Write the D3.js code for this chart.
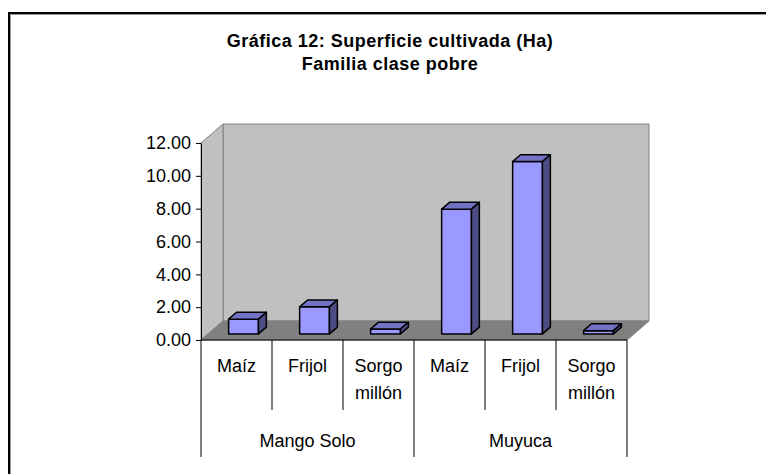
<!DOCTYPE html>
<html>
<head>
<meta charset="utf-8">
<script src="https://cdn.jsdelivr.net/npm/d3@7"></script>
<style>
  body { margin: 0; background: #fff; }
  svg { display: block; font-family: "Liberation Sans", Arial, sans-serif; }
</style>
</head>
<body>
<svg id="chart"></svg>
<script>
// data
const groups = ["Mango Solo", "Muyuca"];
const crops = ["Maíz", "Frijol", "Sorgo millón"];
const mangoSolo = [0.9, 1.65, 0.3];
const muyuca = [7.6, 10.5, 0.2];
const yTicks = [0, 2, 4, 6, 8, 10, 12];
const titleLines = ["Gráfica 12: Superficie cultivada (Ha)", "Familia clase pobre"];

const rows = [];
[mangoSolo, muyuca].forEach((vals, gi) => {
  vals.forEach((v, ci) => rows.push({group: groups[gi], crop: crops[ci], key: gi + "-" + ci, value: v}));
});

const W = 766, H = 474;
const plotLeft = 201, plotRight = 627, plotBottom = 340, plotTop = 143;
const depthX = 22, depthY = -19;          // offset of the back wall
const barF0 = 0.32, barF1 = 0.68;         // bar depth span (fraction of floor depth)

const svg = d3.select("#chart").attr("width", W).attr("height", H);

// outer frame (only top and left visible)
svg.append("path").attr("d", "M9,474V13H766").attr("fill", "none").attr("stroke", "#000").attr("stroke-width", 2);
svg.append("path").attr("d", "M10.5,474V14.5H766").attr("fill", "none").attr("stroke", "#999").attr("stroke-width", 1);

// title
svg.append("g").selectAll("text")
  .data(titleLines)
  .join("text")
    .attr("x", 390)
    .attr("y", (d, i) => 47 + i * 23)
    .attr("text-anchor", "middle")
    .attr("font-weight", "bold")
    .attr("font-size", 18)
    .attr("letter-spacing", 0.5)
    .text(d => d);

const y = d3.scaleLinear().domain([0, 12]).range([plotBottom, plotTop]);
const x = d3.scaleBand().domain(rows.map(d => d.key)).range([plotLeft, plotRight])
    .paddingInner(0.58).paddingOuter(0.29);
const cat = d3.scaleBand().domain(rows.map(d => d.key)).range([plotLeft, plotRight]);
const grp = d3.scaleBand().domain(groups).range([plotLeft, plotRight]);

const P = (px, py, f) => [px + depthX * f, py + depthY * f];
const poly = pts => "M" + pts.map(p => p.join(",")).join("L") + "Z";

// walls
const walls = svg.append("g");
const y0 = y(0), y12 = y(12);
walls.append("path") // back wall
  .attr("d", poly([P(plotLeft, y12, 1), P(plotRight, y12, 1), P(plotRight, y0, 1), P(plotLeft, y0, 1)]))
  .attr("fill", "#c0c0c0").attr("stroke", "#808080");
walls.append("path") // side wall
  .attr("d", poly([[plotLeft, y12], P(plotLeft, y12, 1), P(plotLeft, y0, 1), [plotLeft, y0]]))
  .attr("fill", "#c0c0c0").attr("stroke", "#808080");
walls.append("path") // floor
  .attr("d", poly([[plotLeft, y0], P(plotLeft, y0, 1), P(plotRight, y0, 1), [plotRight, y0]]))
  .attr("fill", "#808080").attr("stroke", "#808080");

// bars
const bars = svg.append("g").selectAll("g")
  .data(rows)
  .join("g")
    .attr("stroke", "#000").attr("stroke-width", 1.5).attr("stroke-linejoin", "round");

bars.each(function(d) {
  const g = d3.select(this);
  const x0 = x(d.key), x1 = x0 + x.bandwidth();
  const yt = y(d.value), yb = y(0);
  g.append("path") // front
    .attr("d", poly([P(x0, yt, barF0), P(x1, yt, barF0), P(x1, yb, barF0), P(x0, yb, barF0)]))
    .attr("fill", "#9999ff");
  g.append("path") // top
    .attr("d", poly([P(x0, yt, barF0), P(x0, yt, barF1), P(x1, yt, barF1), P(x1, yt, barF0)]))
    .attr("fill", "#7373c6");
  g.append("path") // side
    .attr("d", poly([P(x1, yt, barF0), P(x1, yt, barF1), P(x1, yb, barF1), P(x1, yb, barF0)]))
    .attr("fill", "#4d4d85");
});

// value axis
const yAxisG = svg.append("g")
  .attr("transform", `translate(${plotLeft},0)`)
  .call(d3.axisLeft(y).tickValues(yTicks).tickFormat(d3.format(".2f")).tickSize(5).tickSizeOuter(0).tickPadding(5));
yAxisG.select(".domain").attr("stroke", "#000");
yAxisG.selectAll("text").attr("font-size", 18).attr("font-family", "Liberation Sans, Arial, sans-serif").attr("fill", "#000");

// category axis
const xAxisG = svg.append("g");
xAxisG.append("line").attr("x1", plotLeft).attr("x2", plotRight).attr("y1", plotBottom).attr("y2", plotBottom).attr("stroke", "#000");
xAxisG.selectAll(".sep")
  .data(rows.map(d => d.key).concat(["end"]))
  .join("line")
    .attr("x1", d => d === "end" ? plotRight : cat(d))
    .attr("x2", d => d === "end" ? plotRight : cat(d))
    .attr("y1", plotBottom)
    .attr("y2", (d, i) => (i % 3 === 0) ? 457 : 410)
    .attr("stroke", "#000");

xAxisG.selectAll(".crop")
  .data(rows)
  .join("text")
    .attr("text-anchor", "middle")
    .attr("font-size", 18)
    .attr("x", d => cat(d.key) + cat.bandwidth() / 2)
    .attr("y", 372)
    .each(function(d) {
      d3.select(this).selectAll("tspan")
        .data(d.crop.split(" "))
        .join("tspan")
          .attr("x", cat(d.key) + cat.bandwidth() / 2)
          .attr("dy", (t, i) => i ? 27 : 0)
          .text(t => t);
    });

xAxisG.selectAll(".grp")
  .data(groups)
  .join("text")
    .attr("text-anchor", "middle")
    .attr("font-size", 18)
    .attr("x", d => grp(d) + grp.bandwidth() / 2)
    .attr("y", 447)
    .text(d => d);
</script>
</body>
</html>
